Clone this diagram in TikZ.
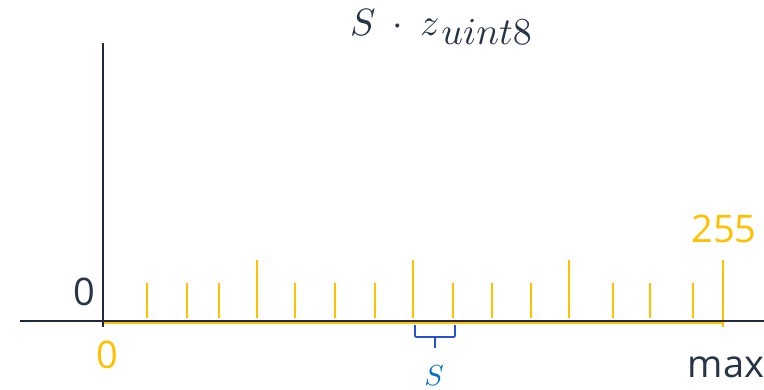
\documentclass[tikz,border=0pt]{standalone}
\usepackage{fontspec}
\setmainfont{Open Sans}
\usepackage{tikz}
\usetikzlibrary{positioning, calc}

\definecolor{gold}{RGB}{255,192,0}
\definecolor{slate}{RGB}{40,52,72}
\definecolor{bracketblue}{RGB}{40,80,210}
\definecolor{scaleblue}{RGB}{0,112,192}

\begin{document}
\begin{tikzpicture}[
  x=1pt, y=-1pt,
  axis/.style={draw=slate!80!black, line width=1.6pt},
  base/.style={draw=gold, line width=4.5pt},
  tick/.style={draw=gold, line width=2.6pt},
  numlbl/.style={inner sep=0pt, font=\fontsize{38}{44}\selectfont},
  mathlbl/.style={inner sep=0pt, text=slate},
  bracket/.style={draw=bracketblue, line width=1.6pt, rounded corners=1pt}
]
\useasboundingbox (0,0) rectangle (764,389);
\coordinate (orig) at (103,321);
\coordinate (xleft) at (20,321);
\coordinate (xright) at (764,321);
\coordinate (ytop) at (103,43);
\coordinate (ybot) at (103,327);
\coordinate (qend) at (723,322);
% quantised grid
\draw[base] ($(orig)+(0,1)$) -- (qend);
\foreach \tx/\ty in {103/260, 147/283, 187/283, 219/283, 257/260, 295/283,
  335/283, 375/283, 413/260, 453/283, 492/283, 531/283, 569/260,
  613/283, 650/283, 693/283}
  \draw[tick] (\tx,318) -- (\tx,\ty);
\draw[tick] (723,327) -- (723,260);
% axes
\draw[axis] (xleft) -- (xright);
\draw[axis] (ybot) -- (ytop);
% one step
\coordinate (sa) at (415,325);
\coordinate (sb) at (455,325);
\draw[bracket] (sa) -- ($(sa)+(0,12)$) -- ($(sb)+(0,12)$) -- (sb);
\draw[bracket] ($(sa)!0.5!(sb)+(0,12)$) -- ($(sa)!0.5!(sb)+(0,23)$);
\node[mathlbl, text=scaleblue] (step) at (434,376) {\scalebox{2.9}{$S$}};
% labels
\node[mathlbl, anchor=base west] (title) at (350,35)
  {\scalebox{3.8}{$S\:\cdot\:z\mkern1mu\raisebox{-2.6pt}{$uint8$}$}};
\node[numlbl, text=slate] (zero) at (84,292) {0};
\node[numlbl, text=gold] (qzero) at (107,355) {0};
\node[numlbl, text=gold] (qmax) at (724,229) {255};
\node[numlbl, text=slate, anchor=base] (max) at (726,377) {max};
\end{tikzpicture}
\end{document}
